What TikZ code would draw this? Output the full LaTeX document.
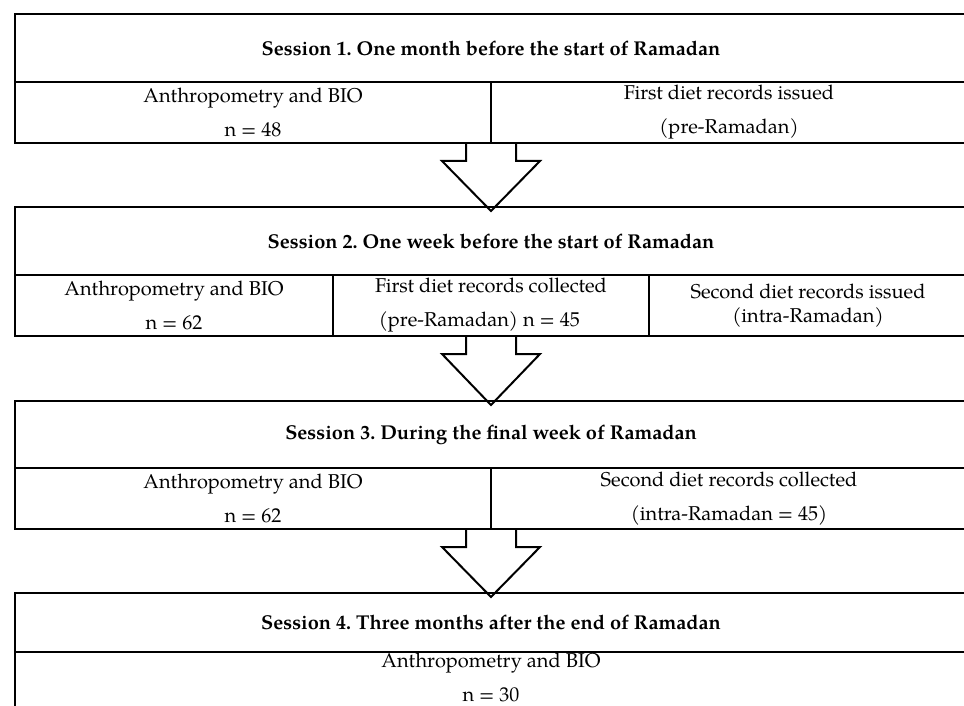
\documentclass[tikz,border=0pt]{standalone}
\usepackage{fontspec}
\setmainfont{TeX Gyre Pagella}
\usetikzlibrary{calc}
\frenchspacing
\tikzset{
  cell/.style={draw, anchor=north west, inner sep=0pt, outer sep=0pt, align=center,
    font=\fontsize{10}{17}\selectfont},
  hdr/.style={cell, font=\fontsize{10}{12}\selectfont\bfseries},
  celltext/.style={inner sep=0pt, align=center, font=\fontsize{10}{17}\selectfont},
  blockarrow/.style={draw, line width=1pt, line join=miter}
}
\newcommand\flowarrow[3]{% #1 header above, #2 cell above, #3 header below
  \draw[blockarrow] ($(#1.south |- #2.south)+(-25,0)$) -- ++(0,18) -- ++(-24,0)
    -- ($(#3.north)+(0,4)$) -- ($(#1.south |- #2.south)+(49,18)$) -- ++(-24,0) -- ++(0,-18);}
\begin{document}
\begin{tikzpicture}[x=0.5pt, y=-0.5pt, line width=1pt]
\useasboundingbox (0,0) rectangle (964,706);
\clip (0,0) rectangle (964,706);
% Session 1
\node[hdr, minimum width=476pt, minimum height=34pt] (h1) at (15,14) {Session 1. One month before the start of Ramadan};
\node[cell, minimum width=238pt, minimum height=30.5pt] (c1a) at (15,82) {Anthropometry and BIO\\ n = 48};
\node[cell, minimum width=238pt, minimum height=30.5pt] (c1b) at (491,82) {First diet records issued\\ (pre-Ramadan)};
% Session 2
\node[hdr, minimum width=476pt, minimum height=34pt] (h2) at (15,207) {Session 2. One week before the start of Ramadan};
\node[cell, minimum width=159pt, minimum height=30.5pt] (c2a) at (15,275) {Anthropometry and BIO\\ n = 62};
\node[cell, minimum width=158pt, minimum height=30.5pt] (c2b) at (333,275) {First diet records collected\\ (pre-Ramadan) n = 45\phantom{nn}};
\node[cell, minimum width=159pt, minimum height=30.5pt, font=\fontsize{10}{12}\selectfont] (c2c) at (649,275) {Second diet records issued\\ (intra-Ramadan)};
% Session 3
\node[hdr, minimum width=476pt, minimum height=33.5pt] (h3) at (15,401) {Session 3. During the final week of Ramadan};
\node[cell, minimum width=238pt, minimum height=30.5pt] (c3a) at (15,468) {Anthropometry and BIO\\ n = 62};
\node[cell, minimum width=238pt, minimum height=30.5pt] (c3b) at (491,468) {Second diet records collected\\ (intra-Ramadan = 45)};
% Session 4
\node[hdr, minimum width=476pt, minimum height=29.5pt] (h4) at (15,593) {\raisebox{-2pt}{Session 4. Three months after the end of Ramadan}};
\node[cell, minimum width=476pt, minimum height=29.5pt] (c4) at (15,652) {};
\node[celltext] (t4) at ($(c4.center)+(0,-4)$) {Anthropometry and BIO\\ n = 30};
% Arrows
\flowarrow{h1}{c1a}{h2}
\flowarrow{h2}{c2a}{h3}
\flowarrow{h3}{c3a}{h4}
\end{tikzpicture}
\end{document}
